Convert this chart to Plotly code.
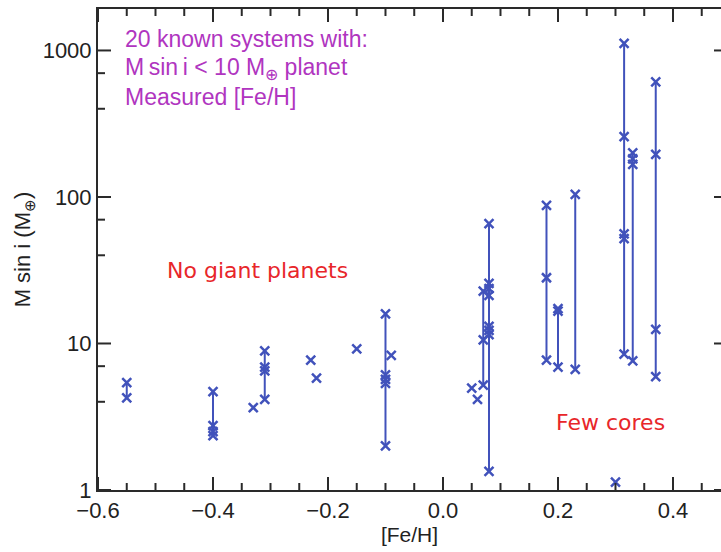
import plotly.graph_objects as go

# [Fe/H] of each system
feh = [-0.55, -0.40, -0.33, -0.31, -0.23, -0.22, -0.15, -0.10, -0.09, 0.05,
       0.06, 0.07, 0.08, 0.18, 0.20, 0.23, 0.30, 0.315, 0.33, 0.37]
# M sin i (Earth masses) of the planets in each system
msini = [
    [5.4, 4.25],
    [4.7, 2.75, 2.5, 2.35],
    [3.65],
    [8.9, 6.9, 6.5, 4.15],
    [7.7],
    [5.8],
    [9.2],
    [15.9, 6.1, 5.7, 5.35, 2.0],
    [8.3],
    [4.95],
    [4.15],
    [22.8, 10.6, 5.2],
    [65.9, 25.7, 23.7, 21.3, 13.1, 12.3, 11.5, 1.34],
    [87.5, 28.1, 7.7],
    [17.3, 16.6, 6.9],
    [104, 6.65],
    [1.13],
    [1116, 258, 56, 52, 8.45],
    [200, 182, 167, 7.6],
    [611, 195, 12.5, 5.95],
]
xtick_vals = [-0.6, -0.4, -0.2, 0.0, 0.2, 0.4]
xtick_text = ["−0.6", "−0.4", "−0.2", "0.0", "0.2", "0.4"]
xminor_vals = [-0.55, -0.5, -0.45, -0.35, -0.3, -0.25, -0.15, -0.1, -0.05,
               0.05, 0.1, 0.15, 0.25, 0.3, 0.35, 0.45]
ytick_vals = [1, 10, 100, 1000]
ytick_text = ["1", "10", "100", "1000"]
yminor_vals = [4, 7, 40, 70, 400, 700]
x_range = [-0.6, 0.4835]
y_range = [0, 3.283]

BLUE = "#4152bb"
PURPLE = "#b035c0"
RED = "#e8262a"
AX = "#2a2a2a"
SANS = "Liberation Sans, Arial, sans-serif"

PLOT_W, PLOT_H = 623, 481   # plot-area size in px (for tick lengths)

fig = go.Figure()
for fx, ms in zip(feh, msini):
    fig.add_trace(go.Scatter(
        x=[fx] * len(ms), y=ms,
        mode="lines+markers" if len(ms) > 1 else "markers",
        line=dict(color=BLUE, width=2),
        marker=dict(symbol="x-thin", size=9, color=BLUE,
                    line=dict(color=BLUE, width=2.5)),
        showlegend=False, hoverinfo="x+y",
    ))

fig.update_layout(
    width=721, height=552,
    margin=dict(l=98, r=0, t=9, b=62),
    paper_bgcolor="white", plot_bgcolor="white",
    font=dict(family=SANS, size=22, color="#222"),
    xaxis=dict(
        range=x_range, tickmode="array", tickvals=xtick_vals, ticktext=xtick_text,
        ticks="", showline=True, linewidth=2, linecolor=AX, mirror=True,
        showgrid=False, zeroline=False,
        title=dict(text="[Fe/H]", standoff=4, font=dict(size=21)),
    ),
    yaxis=dict(
        type="log", range=y_range,
        tickmode="array", tickvals=ytick_vals, ticktext=ytick_text,
        ticks="", showline=True, linewidth=2, linecolor=AX,
        showgrid=False, zeroline=False,
        title=dict(text="M sin i (M<sub>⊕</sub>)", standoff=6, font=dict(size=22)),
    ),
)

tick_line = dict(color=AX, width=2)


def xtick(v, length):
    # bottom and top tick marks pointing inwards
    fig.add_shape(type="line", xref="x", yref="y domain", x0=v, x1=v,
                  y0=0, y1=length / PLOT_H, line=tick_line, layer="above")
    fig.add_shape(type="line", xref="x", yref="y domain", x0=v, x1=v,
                  y0=1 - length / PLOT_H, y1=1, line=tick_line, layer="above")


def ytick(v, length, right=False):
    if right:
        x0, x1 = 1 - length / PLOT_W, 1
    else:
        x0, x1 = 0, length / PLOT_W
    fig.add_shape(type="line", xref="x domain", yref="y", x0=x0, x1=x1,
                  y0=v, y1=v, line=tick_line, layer="above")


for v in xtick_vals:
    xtick(v, 13)
for v in xminor_vals:
    xtick(v, 7)
for v in ytick_vals:
    ytick(v, 13)
    ytick(v, 7, right=True)
for v in yminor_vals:
    ytick(v, 7)

purple_lines = ["20 known systems with:",
                "M\u2009sin\u2009i < 10 M<sub>⊕</sub> planet",
                "Measured [Fe/H]"]
purple_y = [3.075, 2.874, 2.683]
for txt, yy in zip(purple_lines, purple_y):
    fig.add_annotation(x=-0.5565, y=yy, xref="x", yref="y", text=txt,
                       showarrow=False, xanchor="left", yanchor="middle",
                       font=dict(color=PURPLE, size=23, family=SANS))

fig.add_annotation(x=-0.322, y=1.499, xref="x", yref="y", text="No giant planets",
                   showarrow=False, xanchor="center", yanchor="middle",
                   font=dict(color=RED, size=22, family="DejaVu Sans"))
fig.add_annotation(x=0.292, y=0.461, xref="x", yref="y", text="Few cores",
                   showarrow=False, xanchor="center", yanchor="middle",
                   font=dict(color=RED, size=22, family="DejaVu Sans"))

fig.write_html("out.html")
